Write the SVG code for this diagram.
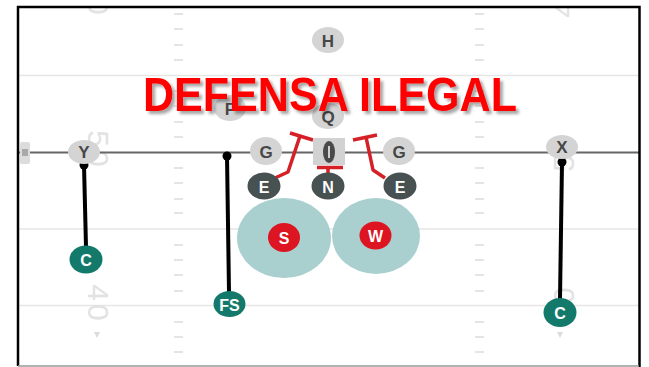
<svg xmlns="http://www.w3.org/2000/svg" width="649" height="367" viewBox="0 0 649 367">
  <defs>
    <clipPath id="fieldClip"><rect x="18" y="7" width="622" height="360"/></clipPath>
    <filter id="shadow" x="-5%" y="-20%" width="115%" height="150%">
      <feDropShadow dx="3" dy="3" stdDeviation="1.6" flood-color="#000" flood-opacity="0.35"/>
    </filter>
  </defs>
  <style>
    .hash{stroke:#dcdcdc;stroke-width:1.3}
    .yl{stroke:#e6e6e6;stroke-width:1.5}
    .num{font-family:"Liberation Sans",Arial,sans-serif;font-size:30px;fill:#e2e2e2;text-anchor:middle;dominant-baseline:central}
    .off{fill:#d4d4d4}
    .def{fill:#475152}
    .sec{fill:#137a6b}
    .lb{fill:#dd1421}
    .zone{fill:#a9d0cf}
    .t{font-family:"Liberation Sans",Arial,sans-serif;font-weight:bold;text-anchor:middle;dominant-baseline:central}
    .tg{fill:#474747;font-size:17px}
    .tw{fill:#ffffff;font-size:16px}
    .route{stroke:#000;stroke-width:4;fill:none}
    .block{stroke:#d42026;stroke-width:3.5;fill:none;stroke-linejoin:round}
  </style>
  <rect x="0" y="0" width="649" height="367" fill="#ffffff"/>
  <g id="field" clip-path="url(#fieldClip)">
    <line class="yl" x1="18" y1="75.5" x2="640" y2="75.5"/>
    <line class="yl" x1="18" y1="229" x2="640" y2="229"/>
    <line class="yl" x1="18" y1="305.5" x2="640" y2="305.5"/>
    <g id="hashes">
      <path class="hash" d="M174 14h9M174 29h9M174 45h9M174 60h9M174 91h9M174 106h9M174 122h9M174 137h9M174 168h9M174 183h9M174 199h9M174 213h9M174 245h9M174 260h9M174 275h9M174 291h9M174 322h9M174 337h9M174 352h9"/>
      <path class="hash" d="M475 14h9M475 29h9M475 45h9M475 60h9M475 91h9M475 106h9M475 122h9M475 137h9M475 168h9M475 183h9M475 199h9M475 213h9M475 245h9M475 260h9M475 275h9M475 291h9M475 322h9M475 337h9M475 352h9"/>
    </g>
    <text class="num" transform="translate(98,-2) rotate(90)" letter-spacing="3">40</text>
    <text class="num" transform="translate(98,150) rotate(90)" letter-spacing="3">50</text>
    <text class="num" transform="translate(98,304) rotate(90)" letter-spacing="3">40</text>
    <text class="num" transform="translate(563,-2) rotate(-90)" letter-spacing="3">40</text>
    <text class="num" transform="translate(563,152) rotate(-90)" letter-spacing="3">50</text>
    <text class="num" transform="translate(563,304) rotate(-90)" letter-spacing="3">40</text>
    <path d="M94 332h6l-3 6z" fill="#dcdcdc"/>
    <path d="M557 332h6l-3 6z" fill="#dcdcdc"/>
    <line x1="18" y1="152.5" x2="640" y2="152.5" stroke="#666" stroke-width="2"/>
    <rect x="20" y="142" width="10" height="22" rx="2" fill="#dcdcdc"/>
    <path d="M23 149v7M25 149v7M27 149v7" stroke="#777" stroke-width="1"/>
  </g>
  <path d="M18 366V7H639.5V367" fill="none" stroke="#000" stroke-width="2.5"/>
  <line x1="18" y1="366" x2="639" y2="366" stroke="#999" stroke-width="1.5"/>

  <g id="zones">
    <ellipse id="zone-S" class="zone" cx="284" cy="238" rx="47" ry="40"/>
    <ellipse id="zone-W" class="zone" cx="376" cy="236" rx="44" ry="38"/>
  </g>

  <g id="connectors">
    <line class="route" x1="84" y1="165" x2="86" y2="247"/>
    <circle cx="84" cy="165" r="4.5" fill="#000"/>
    <line class="route" x1="227" y1="156" x2="229" y2="292"/>
    <circle cx="227" cy="156" r="4.5" fill="#000"/>
    <line class="route" x1="562" y1="162" x2="560" y2="299"/>
    <circle cx="562" cy="162" r="4.5" fill="#000"/>
    <path class="block" d="M275 178L288 172L300 136"/>
    <path class="block" d="M290 133L313 140"/>
    <path class="block" d="M385 178L373 170L366 137"/>
    <path class="block" d="M353 140L377 135"/>
    <path class="block" d="M317 167.5H343M328 167.5V174"/>
  </g>

  <g id="node-H"><ellipse class="off" cx="328" cy="40" rx="16" ry="13"/><text class="t tg" x="328" y="41">H</text></g>
  <g id="node-F"><ellipse class="off" cx="230" cy="108" rx="16" ry="13"/><text class="t tg" x="230" y="109">F</text></g>
  <g id="node-Q"><ellipse class="off" cx="328" cy="116" rx="16" ry="13"/><text class="t tg" x="328" y="117">Q</text></g>
  <g id="node-G1"><ellipse class="off" cx="266" cy="151" rx="16" ry="14"/><text class="t tg" x="266" y="152">G</text></g>
  <g id="node-G2"><ellipse class="off" cx="399" cy="151" rx="16" ry="14"/><text class="t tg" x="399" y="152">G</text></g>
  <g id="node-Y"><ellipse class="off" cx="84" cy="152" rx="16" ry="12"/><text class="t tg" x="84" y="152">Y</text></g>
  <g id="node-X"><ellipse class="off" cx="562" cy="147" rx="16" ry="12"/><text class="t tg" x="562" y="147">X</text></g>
  <g id="node-ball">
    <rect x="313" y="138" width="32" height="27" fill="#d2d2d2"/>
    <ellipse cx="329" cy="152" rx="6" ry="11" fill="#4a4a4a"/>
    <path d="M329 146v12" stroke="#fff" stroke-width="1.5"/>
  </g>

  <g id="node-E1"><ellipse class="def" cx="264" cy="186" rx="16.5" ry="13.5"/><text class="t tw" x="264" y="187">E</text></g>
  <g id="node-N"><ellipse class="def" cx="328" cy="186" rx="16.5" ry="13.5"/><text class="t tw" x="328" y="187">N</text></g>
  <g id="node-E2"><ellipse class="def" cx="400" cy="186" rx="16.5" ry="13.5"/><text class="t tw" x="400" y="187">E</text></g>

  <g id="node-S"><ellipse class="lb" cx="284" cy="237.5" rx="16" ry="14.5"/><text class="t tw" x="284" y="238.5">S</text></g>
  <g id="node-W"><ellipse class="lb" cx="375.5" cy="235.5" rx="16" ry="14"/><text class="t tw" x="375.5" y="236.5">W</text></g>

  <g id="node-C1"><ellipse class="sec" cx="86" cy="259.5" rx="16.5" ry="14"/><text class="t tw" x="86" y="260.5">C</text></g>
  <g id="node-FS"><ellipse class="sec" cx="229.5" cy="304" rx="16" ry="13"/><text class="t tw" x="229.5" y="305" font-size="13">FS</text></g>
  <g id="node-C2"><ellipse class="sec" cx="560" cy="312.5" rx="16.5" ry="14.5"/><text class="t tw" x="560" y="313.5">C</text></g>

  <text id="title" x="330" y="111" font-family="Liberation Sans,Arial,sans-serif" font-weight="bold" font-size="48" fill="#ff0000" text-anchor="middle" textLength="374" lengthAdjust="spacingAndGlyphs" filter="url(#shadow)">DEFENSA ILEGAL</text>
</svg>
